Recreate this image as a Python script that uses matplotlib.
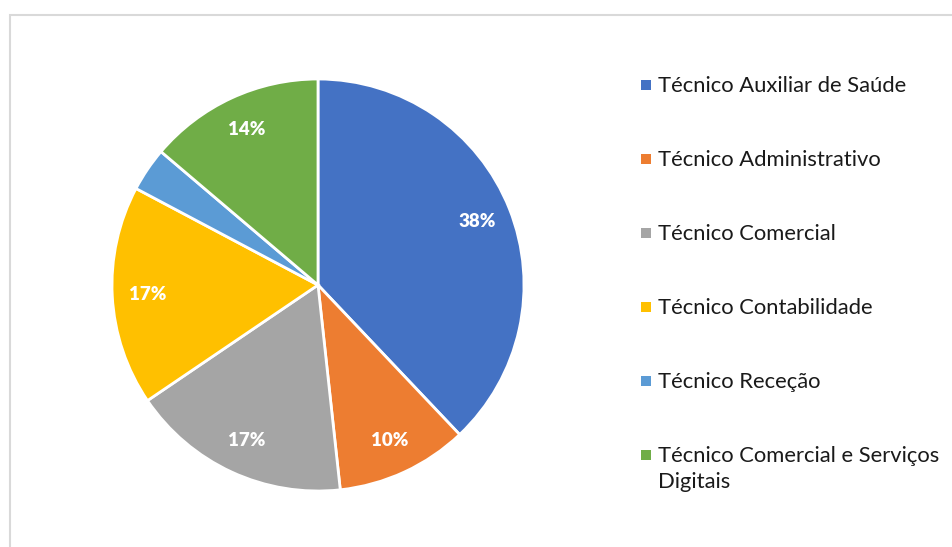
import matplotlib.pyplot as plt
from matplotlib.patches import Rectangle

plt.rcParams['font.family'] = ['Lato', 'DejaVu Sans']

# Number of students by course (read from the percentages: total 29)
courses = [
    'Técnico Auxiliar de Saúde',
    'Técnico Administrativo',
    'Técnico Comercial',
    'Técnico Contabilidade',
    'Técnico Receção',
    'Técnico Comercial e Serviços\nDigitais',
]
counts = [11, 3, 5, 5, 1, 4]
colors = ['#4472C4', '#ED7D31', '#A5A5A5', '#FFC000', '#5B9BD5', '#70AD47']


def pct_label(p):
    # Excel hides the label of the small Receção slice
    return f'{p:.0f}%' if p >= 5 else ''


W, H = 952, 547
fig = plt.figure(figsize=(W / 100, H / 100), dpi=100)

# light grey chart frame
fig.patches.append(Rectangle((10 / W, -0.05), 1.0, 1 - 15 / H + 0.05,
                             transform=fig.transFigure, fill=False,
                             edgecolor='#D9D9D9', linewidth=1.5))

r = 206
cx, cy = 318, 285
ax = fig.add_axes([(cx - r) / W, 1 - (cy + r) / H, 2 * r / W, 2 * r / H])

wedges, texts, autotexts = ax.pie(
    counts,
    colors=colors,
    startangle=90,
    counterclock=False,
    autopct=pct_label,
    pctdistance=0.83,
    wedgeprops=dict(edgecolor='white', linewidth=2),
    textprops=dict(color='white', fontsize=13.5, fontweight='heavy'),
)
ax.set_aspect('equal')
ax.set_xlim(-1, 1)
ax.set_ylim(-1, 1)

# legend drawn by hand so the square sits on the first line of wrapped labels
leg_x, leg_y0, leg_step = 641, 85, 74
for i, (name, col) in enumerate(zip(courses, colors)):
    y = leg_y0 + i * leg_step
    fig.patches.append(Rectangle((leg_x / W, 1 - (y + 5) / H), 10 / W, 10 / H,
                                 transform=fig.transFigure, facecolor=col,
                                 edgecolor='none'))
    fig.text((leg_x + 17) / W, 1 - (y - 9) / H, name, fontsize=15.8,
             va='top', ha='left', color='#1a1a1a', linespacing=1.4)

fig.savefig('out.png', dpi=100)
